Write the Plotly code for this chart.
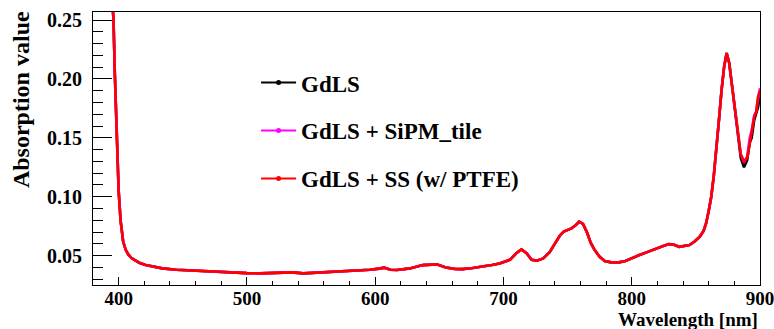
import plotly.graph_objects as go

# ---------------- data ----------------
wavelength = [393, 396, 397, 398.5, 400, 401.5, 403.5, 405.5, 407.5, 410, 412.5, 416, 421, 427,
              434, 445, 458, 470, 489, 500, 510, 522, 535, 544, 559, 572, 585, 596, 603, 607,
              612, 617, 627, 637, 648, 655, 662, 668, 676, 684, 691, 697, 705, 710, 714, 718,
              722, 726, 731, 736, 740, 744, 747, 750, 753, 756, 759, 762, 765, 768, 771, 775,
              779, 784, 790, 795, 800, 806, 812, 819, 824, 829, 833, 837, 841, 845, 849, 853,
              856, 858, 860, 862, 864, 866, 868, 870, 872, 874, 876, 878,
              880, 882.5, 885, 887.5, 890, 892, 893.5, 895.5, 897, 898.5, 900]

absorb_common = [0.30, 0.25, 0.205, 0.15, 0.105, 0.080, 0.062, 0.055, 0.051, 0.048, 0.046, 0.044,
                 0.042, 0.0405, 0.0392, 0.038, 0.0372, 0.0365, 0.0355, 0.0352, 0.035, 0.0355,
                 0.0358, 0.035, 0.0358, 0.0365, 0.0372, 0.038, 0.039, 0.0398, 0.038, 0.0378,
                 0.0392, 0.042, 0.0426, 0.040, 0.0388, 0.0386, 0.0395, 0.0406, 0.042, 0.0433,
                 0.0465, 0.052, 0.0553, 0.052, 0.0465, 0.0458, 0.0477, 0.053, 0.060, 0.067,
                 0.0705, 0.0718, 0.0732, 0.0755, 0.0788, 0.077, 0.070, 0.061, 0.055, 0.049,
                 0.0455, 0.0443, 0.0443, 0.0455, 0.0475, 0.0505, 0.053, 0.0562, 0.058, 0.0598,
                 0.0592, 0.0575, 0.0585, 0.059, 0.062, 0.066, 0.071, 0.0775, 0.088, 0.100,
                 0.118, 0.139, 0.165, 0.190, 0.210, 0.222, 0.2135, 0.196]

tail_gdls = [0.179, 0.155, 0.133, 0.125, 0.131, 0.146, 0.150, 0.165, 0.170, 0.176, 0.186]
tail_sipm = [0.180, 0.157, 0.136, 0.129, 0.134, 0.150, 0.156, 0.169, 0.172, 0.183, 0.192]
tail_ss   = [0.179, 0.157, 0.136, 0.130, 0.133, 0.145, 0.155, 0.168, 0.172, 0.185, 0.190]

series_names = ["GdLS", "GdLS + SiPM_tile", "GdLS + SS (w/ PTFE)"]
series_values = [absorb_common + tail_gdls, absorb_common + tail_sipm, absorb_common + tail_ss]
series_colors = ["#000000", "#ff00ff", "#ff0000"]

x_ticks = [400, 500, 600, 700, 800, 900]
y_ticks = [0.05, 0.10, 0.15, 0.20, 0.25]
y_tick_labels = ["0.05", "0.10", "0.15", "0.20", "0.25"]

# ---------------- figure ----------------
FONT = "Liberation Serif"
fig = go.Figure()

for name, vals, col in zip(series_names, series_values, series_colors):
    fig.add_trace(go.Scatter(x=wavelength, y=vals, mode="lines", name=name,
                             line=dict(color=col, width=2.6), showlegend=False,
                             hoverinfo="x+y"))

for i, (name, col) in enumerate(zip(series_names, series_colors)):
    fig.add_trace(go.Scatter(x=[None], y=[None], mode="lines+markers", name=name,
                             line=dict(color=col, width=2), marker=dict(color=col, size=5),
                             legendgroup=f"g{i}", showlegend=True))

fig.update_layout(
    width=774, height=329,
    margin=dict(l=93, r=14, t=12, b=44, autoexpand=False),
    paper_bgcolor="white", plot_bgcolor="white",
    font=dict(family=FONT, color="black"),
    showlegend=True,
    legend=dict(x=0.2445, y=0.82, xanchor="left", yanchor="top",
                bgcolor="rgba(0,0,0,0)", borderwidth=0,
                font=dict(family=FONT, size=23, color="black", weight="bold"),
                tracegroupgap=15, itemwidth=35),
    xaxis=dict(range=[380, 900], tickvals=x_ticks, ticktext=[str(v) for v in x_ticks],
               ticks="inside", ticklen=8, tickwidth=1, tickcolor="black",
               showline=True, linecolor="black", linewidth=1, mirror=True,
               showgrid=False, zeroline=False, ticklabeloverflow="allow", automargin=False,
               ticklabelstandoff=-4,
               tickfont=dict(family=FONT, size=19, color="black", weight="bold"),
               minor=dict(dtick=20, tick0=380, ticks="inside", ticklen=4, tickcolor="black")),
    yaxis=dict(range=[0.0251, 0.2568], tickvals=y_ticks, ticktext=y_tick_labels,
               ticks="inside", ticklen=19, tickwidth=1, tickcolor="black",
               showline=True, linecolor="black", linewidth=1, mirror=True,
               showgrid=False, zeroline=False, ticklabelstandoff=6, automargin=False,
               tickfont=dict(family=FONT, size=20, color="black", weight="bold"),
               minor=dict(dtick=0.01, tick0=0.0, ticks="inside", ticklen=10, tickcolor="black")),
    annotations=[
        dict(text="Wavelength [nm]", xref="paper", yref="paper", x=1.0, y=-0.126,
             xanchor="right", yanchor="middle", showarrow=False,
             font=dict(family=FONT, size=19, color="black", weight="bold")),
        dict(text="Absorption value", xref="paper", yref="paper", x=-0.109, y=1.01,
             xanchor="center", yanchor="top", textangle=-90, showarrow=False,
             font=dict(family=FONT, size=24, color="black", weight="bold")),
    ],
)

fig.write_html("out.html", config={"displayModeBar": False},
               post_script="document.body.style.margin='0px';document.body.style.overflow='hidden';")
